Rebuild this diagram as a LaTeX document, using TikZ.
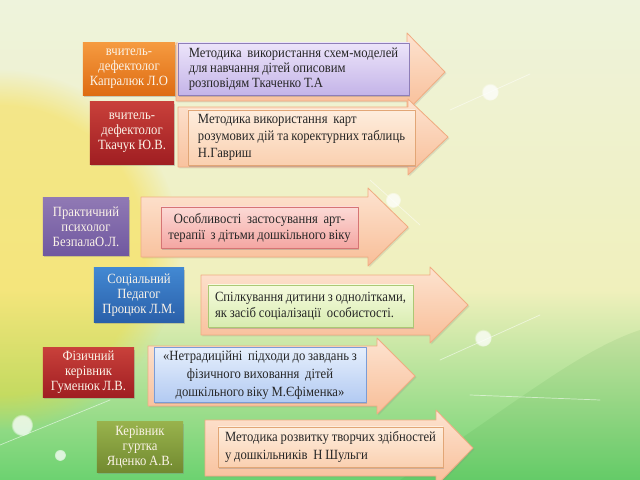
\documentclass[tikz,border=0pt]{standalone}
\usepackage{fontspec}
\setmainfont[FakeStretch=0.9, WordSpace=0.9]{Liberation Serif}
\usetikzlibrary{shadows,fadings}

\definecolor{bgtop}{HTML}{EEF3DC}
\definecolor{bgmid}{HTML}{F0F0BC}
\definecolor{bggrn}{HTML}{A4E28C}
\definecolor{bgbot}{HTML}{6CD270}
\definecolor{arrtop}{HTML}{FDE3D0}
\definecolor{arrbot}{HTML}{F8BE98}
\definecolor{arrline}{HTML}{F0AC82}
\definecolor{whotext}{HTML}{FBF3E8}
% label colours
\definecolor{orgtop}{HTML}{F59A40}\definecolor{orgbot}{HTML}{DE6C12}
\definecolor{redtop}{HTML}{C8403A}\definecolor{redbot}{HTML}{A01E22}
\definecolor{prptop}{HTML}{9079B4}\definecolor{prpbot}{HTML}{7058A0}
\definecolor{blutop}{HTML}{4288D2}\definecolor{blubot}{HTML}{2A60AA}
\definecolor{grntop}{HTML}{98B24C}\definecolor{grnbot}{HTML}{728A30}
% topic colours
\definecolor{lavtop}{HTML}{ECE4FA}\definecolor{lavbot}{HTML}{C4B4E8}\definecolor{lavline}{HTML}{8E7EB8}
\definecolor{pchtop}{HTML}{FEEDDD}\definecolor{pchbot}{HTML}{FAD0B0}\definecolor{pchline}{HTML}{E2A676}
\definecolor{pnktop}{HTML}{FCDAD6}\definecolor{pnkbot}{HTML}{F4A6A2}\definecolor{pnkline}{HTML}{D67474}
\definecolor{lgrtop}{HTML}{F6FBDE}\definecolor{lgrbot}{HTML}{D8ECB0}\definecolor{lgrline}{HTML}{ACC874}
\definecolor{lbltop}{HTML}{E6EFFC}\definecolor{lblbot}{HTML}{B2CAF2}\definecolor{lblline}{HTML}{7A9CD6}

\begin{document}
\begin{tikzpicture}[x=0.025cm, y=-0.025cm, line join=round,
  every node/.style={font=\fontsize{10}{10.6}\selectfont},
  arr/.style={draw=arrline, line width=0.6pt, top color=arrtop, bottom color=arrbot,
    drop shadow={opacity=0.2, shadow xshift=1pt, shadow yshift=-1pt}},
  who/.style={text=whotext, align=center, inner sep=2pt,
    drop shadow={opacity=0.35, shadow xshift=1pt, shadow yshift=-1.2pt}},
  topic/.style={line width=0.5pt, inner sep=2pt, text=black!85,
    drop shadow={opacity=0.35, shadow xshift=1pt, shadow yshift=-1.2pt}},
  glint/.style={white, path fading=circle with fuzzy edge 20 percent, opacity=0.75},
  ray/.style={white, line width=0.5pt, opacity=0.55, line cap=round}]

% ---------- background ----------
\clip (0,0) rectangle (640,480);
\shade[top color=bgtop, bottom color=bgmid] (0,0) rectangle (640,291);
\shade[top color=bgmid, middle color=bggrn, bottom color=bgbot] (0,290) rectangle (640,480);
\fill[yellow!70!orange, path fading=circle with fuzzy edge 20 percent, opacity=0.35] (0,250) circle (4.5cm);
\fill[green!45!black, opacity=0.07] (400,480) .. controls (520,400) and (580,350) .. (640,330) -- (640,480) -- cycle;
% glints
\fill[glint] (490,92) circle (0.22cm);
\draw[ray] (450,110) -- (530,74);
\fill[glint] (393,200) circle (0.2cm);
\draw[ray] (370,180) -- (420,225);
\fill[glint] (483,338) circle (0.22cm);
\draw[ray] (440,360) -- (540,315);
\draw[ray] (470,395) -- (600,400);
\fill[glint] (22,425) circle (0.28cm);
\draw[ray] (0,445) -- (110,400);
\fill[glint] (60,455) circle (0.15cm);

% ---------- arrows ----------
\draw[arr] (176,43) -- (407,43) -- (407,33) -- (445,72) -- (407,111) -- (407,101) -- (176,101) -- cycle;
\draw[arr] (178,107) -- (408,107) -- (408,99) -- (448,137) -- (408,175) -- (408,167) -- (178,167) -- cycle;
\draw[arr] (141,197) -- (368,197) -- (368,188) -- (408,227) -- (368,266) -- (368,257) -- (141,257) -- cycle;
\draw[arr] (201,275) -- (430,275) -- (430,267) -- (468,305) -- (430,343) -- (430,335) -- (201,335) -- cycle;
\draw[arr] (148,346) -- (377,346) -- (377,338) -- (415,376) -- (377,414) -- (377,406) -- (148,406) -- cycle;
\draw[arr] (205,420) -- (436,420) -- (436,410) -- (473,448) -- (436,486) -- (436,476) -- (205,476) -- cycle;

% ---------- topics ----------
\node[topic, draw=lavline, top color=lavtop, bottom color=lavbot, minimum width=5.775cm,
  minimum height=1.3cm, align=left] (t1) at (293.5,69)
  {Методика\ \ використання схем-моделей\\для навчання дітей описовим\\розповідям Ткаченко Т.А};
\node[topic, draw=pchline, top color=pchtop, bottom color=pchbot, minimum width=5.675cm,
  minimum height=1.375cm, align=left, font=\fontsize{10}{12.2}\selectfont] (t2) at (301.5,137.5)
  {Методика використання\ \ карт\\розумових дій та коректурних таблиць\\Н.Гавриш};
\node[topic, draw=pnkline, top color=pnktop, bottom color=pnkbot, minimum width=4.925cm,
  minimum height=1.025cm, align=center, font=\fontsize{10}{11.4}\selectfont] (t3) at (259.5,227.5)
  {Особливості\ \ застосування\ \ арт-\\терапії\ \ з дітьми дошкільного віку};
\node[topic, draw=lgrline, top color=lgrtop, bottom color=lgrbot, minimum width=5.125cm,
  minimum height=1.05cm, align=left, font=\fontsize{10}{11.4}\selectfont] (t4) at (310.5,306)
  {Спілкування дитини з однолітками,\\як засіб соціалізації\ \ особистості.};
\node[topic, draw=lblline, top color=lbltop, bottom color=lblbot, minimum width=5.3cm,
  minimum height=1.35cm, align=center, font=\fontsize{10}{13}\selectfont] (t5) at (260,375)
  {«Нетрадиційні\ \ підходи до завдань з\\фізичного виховання\ \ дітей\\дошкільного віку М.Єфіменка»};
\node[topic, draw=pchline, top color=pchtop, bottom color=pchbot, minimum width=5.625cm,
  minimum height=1.0cm, align=left, font=\fontsize{10}{12.4}\selectfont] (t6) at (330.5,447)
  {Методика розвитку творчих здібностей\\у дошкільників\ \ Н Шульги};

% ---------- who ----------
\node[who, top color=orgtop, bottom color=orgbot, minimum width=2.3cm, minimum height=1.3cm] (w1) at (129,69)
  {вчитель-\\дефектолог\\Капралюк Л.О};
\node[who, top color=redtop, bottom color=redbot, minimum width=2.1cm, minimum height=1.55cm] (w2) at (132,133)
  {вчитель-\\дефектолог\\Ткачук Ю.В.};
\node[who, top color=prptop, bottom color=prpbot, minimum width=2.15cm, minimum height=1.425cm] (w3) at (86,226.5)
  {Практичний\\психолог\\БезпалаО.Л.};
\node[who, top color=blutop, bottom color=blubot, minimum width=2.25cm, minimum height=1.35cm] (w4) at (139,295)
  {Соціальний\\Педагог\\Процюк Л.М.};
\node[who, top color=redtop, bottom color=redbot, minimum width=2.275cm, minimum height=1.225cm] (w5) at (88.5,372.5)
  {Фізичний\\керівник\\Гуменюк Л.В.};
\node[who, top color=grntop, bottom color=grnbot, minimum width=2.15cm, minimum height=1.25cm] (w6) at (140,447)
  {Керівник\\гуртка\\Яценко А.В.};
\end{tikzpicture}
\end{document}
